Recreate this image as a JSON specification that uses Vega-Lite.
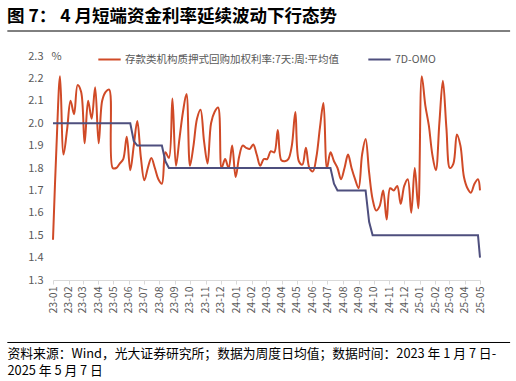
{
"$schema": "https://vega.github.io/schema/vega-lite/v6.json",
"width": 427, "height": 224,
"autosize": {"type": "none"},
"padding": {"left": 53, "top": 56, "right": 36, "bottom": 101},
"background": "white",
"config": {"view": {"stroke": null}, "font": "Noto Sans CJK SC", "axis": {"labelOverlap": false}},
"title": {"text": "图 7：   4 月短端资金利率延续波动下行态势", "anchor": "start", "frame": "group", "dx": -46, "fontSize": 17.5, "fontWeight": "bold", "color": "#000000", "font": "Noto Sans CJK SC", "offset": 5},
"data": {"values": [
{"d":"2023-01-07","r":1.48,"o":2.0},{"d":"2023-01-14","r":1.90,"o":2.0},{"d":"2023-01-21","r":2.21,"o":2.0},{"d":"2023-01-28","r":1.86,"o":2.0},
{"d":"2023-02-04","r":1.97,"o":2.0},{"d":"2023-02-11","r":2.10,"o":2.0},{"d":"2023-02-18","r":2.04,"o":2.0},{"d":"2023-02-25","r":2.17,"o":2.0},
{"d":"2023-03-04","r":2.14,"o":2.0},{"d":"2023-03-11","r":1.91,"o":2.0},{"d":"2023-03-18","r":2.10,"o":2.0},{"d":"2023-03-25","r":2.02,"o":2.0},
{"d":"2023-04-01","r":2.16,"o":2.0},{"d":"2023-04-08","r":1.91,"o":2.0},{"d":"2023-04-15","r":2.10,"o":2.0},{"d":"2023-04-22","r":2.14,"o":2.0},{"d":"2023-04-29","r":2.15,"o":2.0},
{"d":"2023-05-06","r":1.80,"o":2.0},{"d":"2023-05-13","r":1.80,"o":2.0},{"d":"2023-05-20","r":1.82,"o":2.0},{"d":"2023-05-27","r":1.84,"o":2.0},
{"d":"2023-06-03","r":1.94,"o":2.0},{"d":"2023-06-10","r":1.79,"o":2.0},{"d":"2023-06-17","r":1.90,"o":1.92},{"d":"2023-06-24","r":2.01,"o":1.9},
{"d":"2023-07-01","r":1.85,"o":1.9},{"d":"2023-07-08","r":1.745,"o":1.9},{"d":"2023-07-15","r":1.80,"o":1.9},{"d":"2023-07-22","r":1.845,"o":1.9},{"d":"2023-07-29","r":1.80,"o":1.9},
{"d":"2023-08-05","r":1.75,"o":1.9},{"d":"2023-08-12","r":1.73,"o":1.9},{"d":"2023-08-19","r":1.87,"o":1.83},{"d":"2023-08-26","r":1.845,"o":1.8},
{"d":"2023-09-02","r":2.11,"o":1.8},{"d":"2023-09-09","r":1.81,"o":1.8},{"d":"2023-09-16","r":1.93,"o":1.8},{"d":"2023-09-23","r":2.05,"o":1.8},{"d":"2023-09-30","r":2.13,"o":1.8},
{"d":"2023-10-07","r":1.81,"o":1.8},{"d":"2023-10-14","r":1.90,"o":1.8},{"d":"2023-10-21","r":2.02,"o":1.8},{"d":"2023-10-28","r":2.06,"o":1.8},
{"d":"2023-11-04","r":1.92,"o":1.8},{"d":"2023-11-11","r":1.82,"o":1.8},{"d":"2023-11-18","r":2.00,"o":1.8},{"d":"2023-11-25","r":2.05,"o":1.8},
{"d":"2023-12-02","r":2.07,"o":1.8},{"d":"2023-12-09","r":1.80,"o":1.8},{"d":"2023-12-16","r":1.84,"o":1.8},{"d":"2023-12-23","r":1.80,"o":1.8},{"d":"2023-12-30","r":1.90,"o":1.8},
{"d":"2024-01-06","r":1.76,"o":1.8},{"d":"2024-01-13","r":1.85,"o":1.8},{"d":"2024-01-20","r":1.90,"o":1.8},{"d":"2024-01-27","r":1.89,"o":1.8},
{"d":"2024-02-03","r":1.885,"o":1.8},{"d":"2024-02-10","r":1.905,"o":1.8},{"d":"2024-02-17","r":1.86,"o":1.8},{"d":"2024-02-24","r":1.81,"o":1.8},
{"d":"2024-03-02","r":1.84,"o":1.8},{"d":"2024-03-09","r":1.84,"o":1.8},{"d":"2024-03-16","r":1.875,"o":1.8},{"d":"2024-03-23","r":1.87,"o":1.8},{"d":"2024-03-30","r":1.97,"o":1.8},
{"d":"2024-04-06","r":1.835,"o":1.8},{"d":"2024-04-13","r":1.83,"o":1.8},{"d":"2024-04-20","r":1.84,"o":1.8},{"d":"2024-04-27","r":1.90,"o":1.8},
{"d":"2024-05-04","r":2.05,"o":1.8},{"d":"2024-05-11","r":1.83,"o":1.8},{"d":"2024-05-18","r":1.815,"o":1.8},{"d":"2024-05-25","r":1.89,"o":1.8},
{"d":"2024-06-01","r":1.80,"o":1.8},{"d":"2024-06-08","r":1.785,"o":1.8},{"d":"2024-06-15","r":1.85,"o":1.8},{"d":"2024-06-22","r":1.98,"o":1.8},{"d":"2024-06-29","r":2.09,"o":1.8},
{"d":"2024-07-06","r":1.80,"o":1.8},{"d":"2024-07-13","r":1.87,"o":1.8},{"d":"2024-07-20","r":1.83,"o":1.73},{"d":"2024-07-27","r":1.80,"o":1.7},
{"d":"2024-08-03","r":1.75,"o":1.7},{"d":"2024-08-10","r":1.80,"o":1.7},{"d":"2024-08-17","r":1.86,"o":1.7},{"d":"2024-08-24","r":1.80,"o":1.7},{"d":"2024-08-31","r":1.75,"o":1.7},
{"d":"2024-09-07","r":1.71,"o":1.7},{"d":"2024-09-14","r":1.86,"o":1.7},{"d":"2024-09-21","r":1.93,"o":1.7},{"d":"2024-09-28","r":1.78,"o":1.56},
{"d":"2024-10-05","r":1.66,"o":1.5},{"d":"2024-10-12","r":1.61,"o":1.5},{"d":"2024-10-19","r":1.63,"o":1.5},{"d":"2024-10-26","r":1.70,"o":1.5},
{"d":"2024-11-02","r":1.57,"o":1.5},{"d":"2024-11-09","r":1.71,"o":1.5},{"d":"2024-11-16","r":1.70,"o":1.5},{"d":"2024-11-23","r":1.72,"o":1.5},{"d":"2024-11-30","r":1.64,"o":1.5},
{"d":"2024-12-07","r":1.72,"o":1.5},{"d":"2024-12-14","r":1.75,"o":1.5},{"d":"2024-12-21","r":1.60,"o":1.5},{"d":"2024-12-28","r":1.80,"o":1.5},
{"d":"2025-01-04","r":1.62,"o":1.5},{"d":"2025-01-11","r":2.21,"o":1.5},{"d":"2025-01-18","r":2.08,"o":1.5},{"d":"2025-01-25","r":1.99,"o":1.5},
{"d":"2025-02-01","r":1.86,"o":1.5},{"d":"2025-02-08","r":1.79,"o":1.5},{"d":"2025-02-15","r":2.00,"o":1.5},{"d":"2025-02-22","r":2.19,"o":1.5},
{"d":"2025-03-01","r":1.98,"o":1.5},{"d":"2025-03-08","r":1.80,"o":1.5},{"d":"2025-03-15","r":1.82,"o":1.5},{"d":"2025-03-22","r":1.95,"o":1.5},{"d":"2025-03-29","r":1.90,"o":1.5},
{"d":"2025-04-05","r":1.76,"o":1.5},{"d":"2025-04-12","r":1.71,"o":1.5},{"d":"2025-04-19","r":1.69,"o":1.5},{"d":"2025-04-26","r":1.73,"o":1.5},
{"d":"2025-05-03","r":1.75,"o":1.5},{"d":"2025-05-07","r":1.70,"o":1.4}
]},
"layer": [
{
"mark": {"type": "line", "interpolate": "catmull-rom", "strokeWidth": 2},
"encoding": {
"x": {"field": "d", "type": "temporal",
"scale": {"type": "utc", "domain": [{"year":2023,"month":1,"date":7,"utc":true},{"year":2025,"month":5,"date":7,"utc":true}]},
"axis": {"format": "%y-%m", "labelAngle": -90, "labelFontSize": 10.5, "labelColor": "#595959", "labelPadding": 2,
"domainColor": "#d9d9d9", "tickColor": "#d9d9d9", "tickSize": 4, "grid": false, "labelOverlap": false, "labelSeparation": 0, "labelBound": false,
"tickCount": 60,
"values": [
{"year":2023,"month":1,"date":7,"utc":true},{"year":2023,"month":2,"date":7,"utc":true},{"year":2023,"month":3,"date":7,"utc":true},{"year":2023,"month":4,"date":7,"utc":true},{"year":2023,"month":5,"date":7,"utc":true},{"year":2023,"month":6,"date":7,"utc":true},{"year":2023,"month":7,"date":7,"utc":true},{"year":2023,"month":8,"date":7,"utc":true},{"year":2023,"month":9,"date":7,"utc":true},{"year":2023,"month":10,"date":7,"utc":true},{"year":2023,"month":11,"date":7,"utc":true},{"year":2023,"month":12,"date":7,"utc":true},
{"year":2024,"month":1,"date":7,"utc":true},{"year":2024,"month":2,"date":7,"utc":true},{"year":2024,"month":3,"date":7,"utc":true},{"year":2024,"month":4,"date":7,"utc":true},{"year":2024,"month":5,"date":7,"utc":true},{"year":2024,"month":6,"date":7,"utc":true},{"year":2024,"month":7,"date":7,"utc":true},{"year":2024,"month":8,"date":7,"utc":true},{"year":2024,"month":9,"date":7,"utc":true},{"year":2024,"month":10,"date":7,"utc":true},{"year":2024,"month":11,"date":7,"utc":true},{"year":2024,"month":12,"date":7,"utc":true},
{"year":2025,"month":1,"date":7,"utc":true},{"year":2025,"month":2,"date":7,"utc":true},{"year":2025,"month":3,"date":7,"utc":true},{"year":2025,"month":4,"date":7,"utc":true},{"year":2025,"month":5,"date":7,"utc":true}],
"title": ["资料来源：Wind，光大证券研究所；数据为周度日均值；数据时间：2023 年 1 月 7 日-", "2025 年 5 月 7 日"],
"titleAngle": 0, "titleAlign": "left", "titleBaseline": "top", "titleX": -46, "titleY": 67,
"titleFontSize": 12.8, "titleFontWeight": "normal", "titleColor": "#000000", "titleLineHeight": 17.5, "titleLimit": 1000}},
"y": {"field": "r", "type": "quantitative",
"scale": {"domain": [1.3, 2.3], "nice": false, "zero": false},
"axis": {"values": [1.3,1.4,1.5,1.6,1.7,1.8,1.9,2.0,2.1,2.2,2.3], "tickCount": 20, "format": ".1f", "ticks": false, "domain": false, "grid": false,
"labelOverlap": false, "labelSeparation": 0, "labelBound": false,
"labelPadding": 10, "labelFontSize": 11, "labelColor": "#595959",
"title": "%", "titleAngle": 0, "titleAlign": "left", "titleBaseline": "middle", "titleX": -2, "titleY": 0,
"titleFontSize": 11, "titleFontWeight": "normal", "titleColor": "#595959"}},
"color": {"datum": "存款类机构质押式回购加权利率:7天:周:平均值",
"scale": {"domain": ["存款类机构质押式回购加权利率:7天:周:平均值", "7D-OMO"], "range": ["#D04A27", "#4E4F7E"]},
"legend": {"orient": "none", "legendX": 44, "legendY": -9, "direction": "horizontal", "title": null,
"symbolType": "stroke", "symbolStrokeWidth": 2, "symbolSize": 500, "labelFontSize": 10.5, "labelColor": "#595959",
"labelLimit": 400, "columnPadding": 24, "labelOffset": 3}}
}
},
{
"mark": {"type": "line", "strokeWidth": 2},
"encoding": {
"x": {"field": "d", "type": "temporal"},
"y": {"field": "o", "type": "quantitative"},
"color": {"datum": "7D-OMO"}
}
},
{
"data": {"values": [{}]},
"mark": {"type": "rule", "color": "#000000", "strokeWidth": 1},
"encoding": {
"x": {"datum": {"year":2022,"month":10,"date":8,"utc":true}},
"x2": {"datum": {"year":2025,"month":7,"date":6,"utc":true}},
"y": {"datum": 2.4116}
}
},
{
"data": {"values": [{}]},
"mark": {"type": "rule", "color": "#000000", "strokeWidth": 1},
"encoding": {
"x": {"datum": {"year":2022,"month":10,"date":8,"utc":true}},
"x2": {"datum": {"year":2025,"month":7,"date":6,"utc":true}},
"y": {"datum": 1.021}
}
}
]
}
